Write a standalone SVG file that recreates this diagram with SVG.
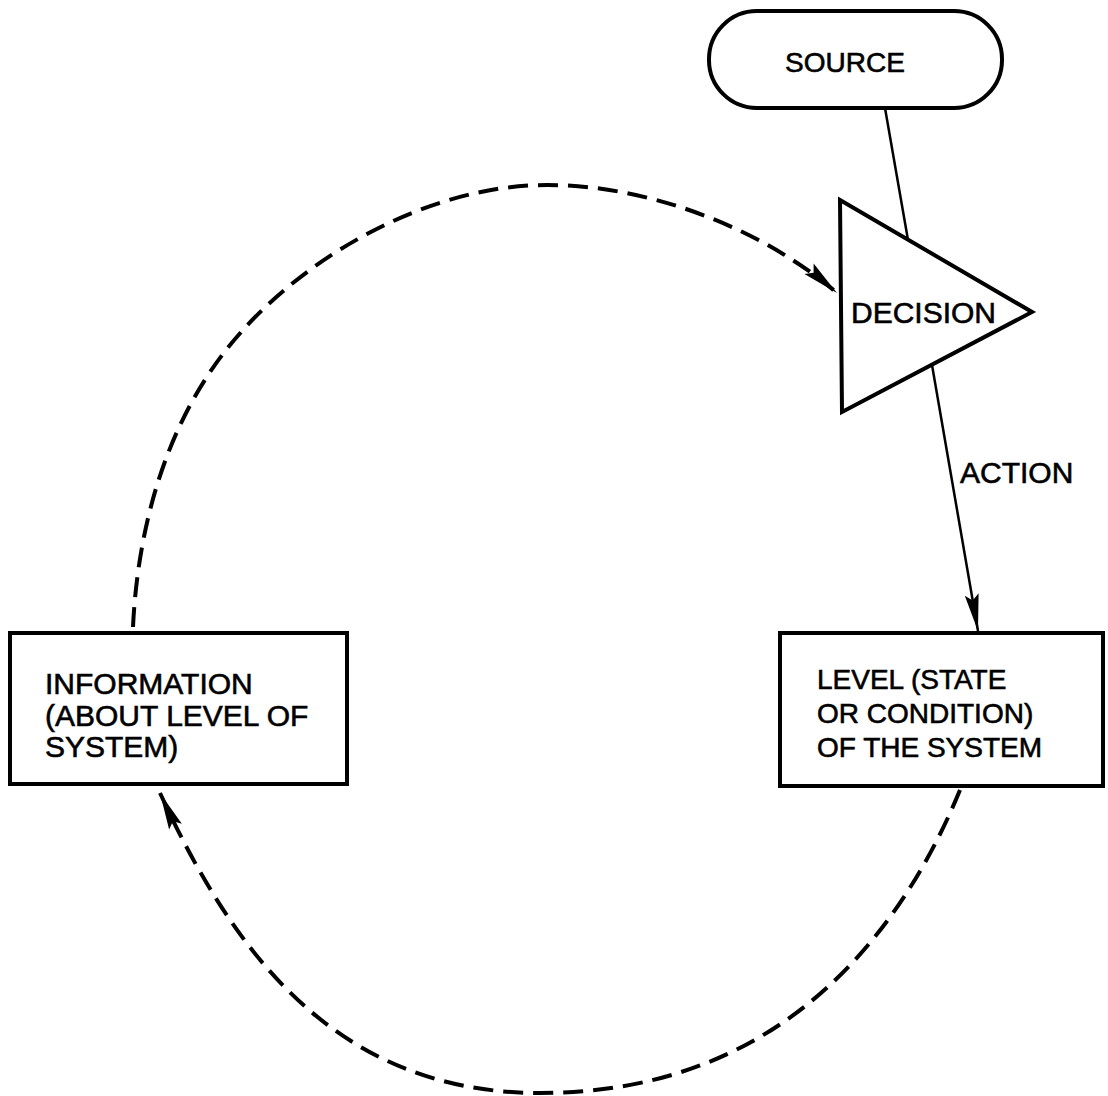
<svg xmlns="http://www.w3.org/2000/svg" width="1108" height="1096" viewBox="0 0 1108 1096">
  <style>
    .box { fill: #fff; stroke: #000; stroke-width: 4; stroke-linejoin: miter; }
    .lbl { font-family: "Liberation Sans", Arial, sans-serif; fill: #000; stroke: #000; stroke-width: 0.6; }
    .solid { fill: none; stroke: #000; stroke-width: 2.5; }
    .dash { fill: none; stroke: #000; stroke-width: 4; stroke-dasharray: 20 10; stroke-linecap: butt; }
  </style>
  <defs>
    <marker id="arrow" markerUnits="userSpaceOnUse" viewBox="-40 -10 42 20" refX="0" refY="0" markerWidth="42" markerHeight="20" orient="auto" overflow="visible">
      <path d="M0,0 L-37,-7 L-31,0 L-37,7 Z" fill="#000" stroke="none"/>
    </marker>
  </defs>
  <rect width="1108" height="1096" fill="#fff"/>

  <g id="connectors">
    <line class="solid" x1="885" y1="108" x2="908" y2="240"/>
    <line class="solid" x1="932" y1="365" x2="978" y2="631" marker-end="url(#arrow)"/>
    <path class="dash" d="M133,627 C138,522 169,411 243,330 C313,252 432,185 547,185 C657,185 769,234 837,293" marker-end="url(#arrow)"/>
    <path class="dash" d="M960,790 C895,948 770,1093 540,1093 C330,1093 229,943 160,793" marker-end="url(#arrow)"/>
  </g>

  <g id="source">
    <rect class="box" x="709" y="11" width="293" height="97" rx="48" ry="48"/>
    <text class="lbl" x="845" y="72" font-size="28" text-anchor="middle">SOURCE</text>
  </g>

  <g id="decision">
    <polygon class="box" points="840,200 1032,312 842,412" stroke-width="4.5"/>
    <text class="lbl" x="851" y="323" font-size="30">DECISION</text>
  </g>

  <g id="action-label">
    <text class="lbl" x="960" y="483" font-size="30">ACTION</text>
  </g>

  <g id="information">
    <rect class="box" x="10" y="633" width="337" height="151"/>
    <text class="lbl" font-size="30">
      <tspan x="45" y="694">INFORMATION</tspan>
      <tspan x="45" y="726">(ABOUT LEVEL OF</tspan>
      <tspan x="45" y="757">SYSTEM)</tspan>
    </text>
  </g>

  <g id="level">
    <rect class="box" x="780" y="633" width="323" height="153"/>
    <text class="lbl" font-size="28">
      <tspan x="817" y="689">LEVEL (STATE</tspan>
      <tspan x="817" y="723">OR CONDITION)</tspan>
      <tspan x="817" y="757">OF THE SYSTEM</tspan>
    </text>
  </g>
</svg>
